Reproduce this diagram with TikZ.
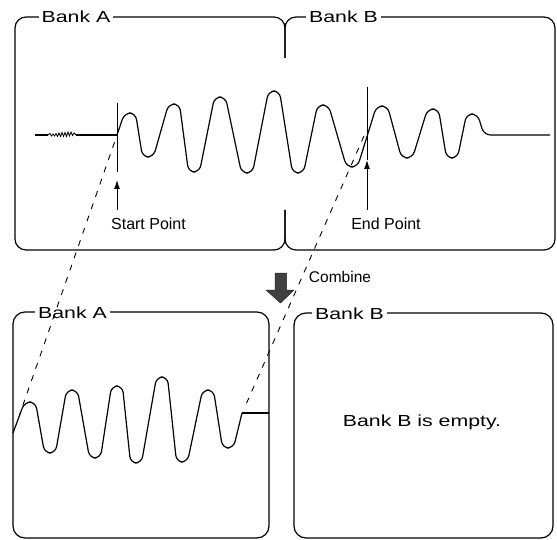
\documentclass[tikz,border=0pt]{standalone}
\usepackage{fontspec}
\usepackage{graphicx}
\setmainfont{Liberation Sans}
\usetikzlibrary{arrows.meta}
\tikzset{
  outline/.style={line width=1.2pt, rounded corners=11pt},
  wave/.style={line width=1.2pt, rounded corners=6.5pt, line join=round},
  noise/.style={line width=0.8pt},
  guide/.style={line width=0.9pt, dash pattern=on 6pt off 7pt},
  marker/.style={line width=1pt},
  pointer/.style={line width=1pt, -{Latex[length=9pt,width=6pt]}},
  widelabel/.style={fill=white, inner xsep=3pt, inner ysep=1pt, anchor=base,
    font=\fontsize{16}{19}\selectfont},
  plainlabel/.style={inner sep=0pt, anchor=base, font=\fontsize{16}{19}\selectfont},
  blockarrow/.style={fill=black!75, draw=black!85, line width=0.5pt, line join=round}
}
\newcommand{\wide}[1]{\scalebox{1.33}[1]{#1}}
\begin{document}
\begin{tikzpicture}[x=1pt, y=-1pt]
\useasboundingbox (0,0) rectangle (557,540);

% ---------- top panel (Bank A + Bank B joined) ----------
\draw[outline] (285,58) -- (285,17) -- (15,17) -- (15,250) -- (285,250) -- (285,210);
\draw[outline] (285,58) -- (285,17) -- (555,17) -- (555,250) -- (285,250) -- (285,210);
\node[widelabel] (topA) at (76,23) {\wide{Bank A}};
\node[widelabel] (topB) at (343.5,23) {\wide{Bank B}};

% original waveform
\draw[line width=1.1pt] (35,135) -- (48,135);
\draw[noise] (48,135) -- (50,133.5) -- (51.5,136) -- (53,134) -- (54.5,136) -- (56,133.5)
  -- (57.5,136.5) -- (59,133) -- (60.5,136.5) -- (62,132.5) -- (63.5,136.5) -- (65,132.5)
  -- (66.5,136.5) -- (68,132) -- (69.5,136) -- (71,132) -- (72.5,135.5) -- (74,133) -- (76,135);
\draw[line width=1.1pt] (76,135) -- (117,135);
\coordinate (sp) at (117,135);
\draw[wave] (sp) -- (124.5,113) -- (135.5,113) -- (142.5,157) -- (153.5,157)
  -- (168.5,104) -- (179.5,104) -- (188.5,172) -- (199.5,172)
  -- (214.5,97) -- (225.5,97) -- (241.5,173) -- (252.5,173)
  -- (268.5,91) -- (279.5,91) -- (292.5,173) -- (303.5,173)
  -- (317.5,105) -- (328.5,105) -- (346.5,167) -- (357.5,167)
  -- (376.5,106) -- (387.5,106) -- (401.5,158) -- (412.5,158)
  -- (427.5,109) -- (438.5,109) -- (446.5,158) -- (457.5,158)
  -- (466.5,114) -- (477.5,114) -- (484,135) -- (550,135);

% start / end markers
\coordinate (smTop) at (117,103);
\coordinate (smBot) at (117,172);
\coordinate (saTip) at (117,180);
\coordinate (saTail) at (117,210);
\draw[marker] (smTop) -- (smBot);
\draw[pointer] (saTail) -- (saTip);
\node[plainlabel] (start) at (148.5,230) {Start Point};

\coordinate (emTop) at (367,87);
\coordinate (emBot) at (367,160);
\coordinate (eaTip) at (367,160);
\coordinate (eaTail) at (367,210);
\draw[marker] (emTop) -- (emBot);
\draw[pointer] (eaTail) -- (eaTip);
\node[plainlabel] (end) at (386,230) {End Point};

% ---------- combine arrow ----------
\draw[blockarrow] (275,273) -- (286.5,273) -- (286.5,290) -- (294,290) -- (280.5,303)
  -- (266,290) -- (275,290) -- cycle;
\node[plainlabel, font=\fontsize{15.5}{18}\selectfont] (combine) at (340,283) {Combine};

% ---------- bottom panels ----------
\draw[outline, rounded corners=12pt] (13,312) rectangle (269,538);
\node[widelabel] (botA) at (72.5,318) {\wide{Bank A}};
\draw[outline, rounded corners=12pt] (294,313) rectangle (553,538);
\node[widelabel] (botB) at (349.5,319) {\wide{Bank B}};
\node[plainlabel] (empty) at (422,426) {\wide{Bank B is empty.}};

% combined waveform
\coordinate (bs) at (13,433);
\coordinate (be) at (242,413);
\draw[wave] (bs) -- (24.5,402) -- (35.5,402) -- (44.5,453) -- (55.5,453)
  -- (66.5,390) -- (77.5,390) -- (89.5,458) -- (100.5,458)
  -- (111.5,386) -- (122.5,386) -- (130.5,463) -- (141.5,463)
  -- (156.5,377) -- (167.5,377) -- (176.5,462) -- (187.5,462)
  -- (202.5,390) -- (213.5,390) -- (222.5,448) -- (233.5,448) -- (be);
\draw[line width=1.2pt] (be) -- (269,413);

% dashed guides
\coordinate (g1a) at (114.6,142);
\coordinate (g1b) at (19.5,415);
\coordinate (g2a) at (364,136);
\coordinate (g2b) at (244,409);
\draw[guide] (g1a) -- (g1b);
\draw[guide] (g2a) -- (g2b);
\end{tikzpicture}
\end{document}
